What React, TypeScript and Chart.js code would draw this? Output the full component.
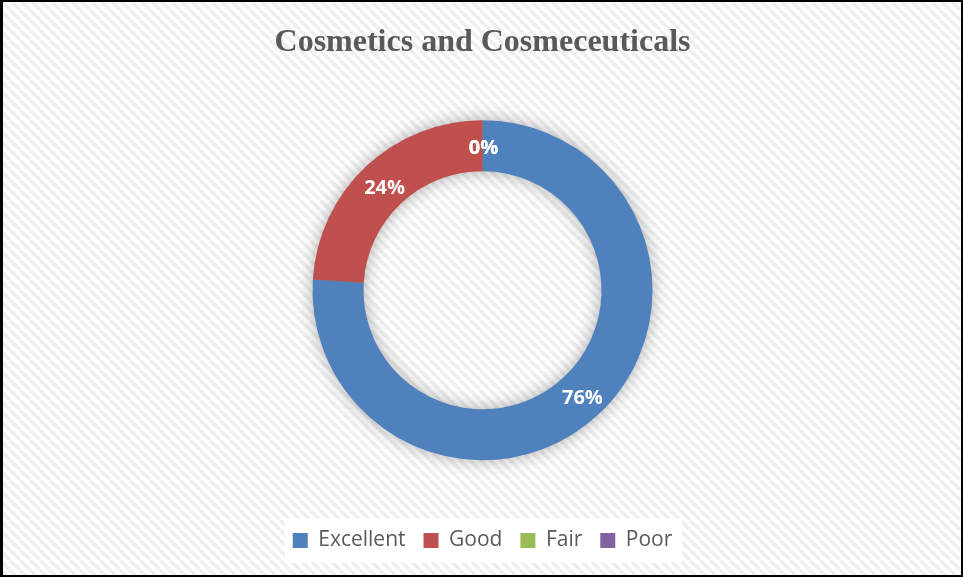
import React, { useEffect, useRef } from "react";
import { Chart, registerables } from "chart.js";

Chart.register(...registerables);

const TITLE = "Cosmetics and Cosmeceuticals";
const CATEGORIES = ["Excellent", "Good", "Fair", "Poor"];
const VALUES = [76, 24, 0, 0];
const COLORS = ["#4F81BD", "#C0504D", "#9BBB59", "#8064A2"];

function makeStripePattern(ctx: CanvasRenderingContext2D) {
  const s = 10;
  const c = document.createElement("canvas");
  c.width = s;
  c.height = s;
  const g = c.getContext("2d")!;
  g.fillStyle = "#ffffff";
  g.fillRect(0, 0, s, s);
  g.strokeStyle = "#eeeeee";
  g.lineWidth = 3.5;
  for (const off of [-s, 0, s]) {
    g.beginPath();
    g.moveTo(off, 0);
    g.lineTo(off + s, s);
    g.stroke();
  }
  return ctx.createPattern(c, "repeat");
}

const bgPlugin = {
  id: "bgPlugin",
  beforeDraw(chart: any) {
    const ctx = chart.ctx as CanvasRenderingContext2D;
    ctx.save();
    const pat = makeStripePattern(ctx);
    ctx.fillStyle = pat || "#fff";
    ctx.fillRect(0, 0, chart.width, chart.height);
    const boxes = chart.legend?.legendHitBoxes || [];
    if (boxes.length) {
      let l = Infinity, r = -Infinity, t = Infinity, b = -Infinity;
      for (const h of boxes) {
        l = Math.min(l, h.left);
        r = Math.max(r, h.left + h.width);
        t = Math.min(t, h.top);
        b = Math.max(b, h.top + h.height);
      }
      const cy = (t + b) / 2;
      ctx.fillStyle = "#ffffff";
      ctx.fillRect(l - 8, cy - 22, r - l + 18, 44);
    }
    ctx.restore();
  },
  beforeDatasetsDraw(chart: any) {
    const meta = chart.getDatasetMeta(0);
    const arc = meta.data[0];
    if (!arc) return;
    const { x, y, innerRadius, outerRadius } = arc.getProps(["x", "y", "innerRadius", "outerRadius"], true);
    const ctx = chart.ctx as CanvasRenderingContext2D;
    ctx.save();
    ctx.shadowColor = "rgba(0,0,0,0.35)";
    ctx.shadowBlur = 18;
    ctx.fillStyle = "#888";
    ctx.beginPath();
    ctx.arc(x, y, outerRadius - 1, 0, Math.PI * 2);
    ctx.arc(x, y, innerRadius + 1, Math.PI * 2, 0, true);
    ctx.closePath();
    ctx.fill();
    ctx.restore();
  },
  afterDatasetsDraw(chart: any) {
    const meta = chart.getDatasetMeta(0);
    const ctx = chart.ctx as CanvasRenderingContext2D;
    const total = VALUES.reduce((a, b) => a + b, 0);
    ctx.save();
    ctx.fillStyle = "#ffffff";
    ctx.font = "bold 20px 'Open Sans', 'Noto Sans', sans-serif";
    ctx.textAlign = "center";
    ctx.textBaseline = "middle";
    meta.data.forEach((el: any, i: number) => {
      const { x, y, startAngle, endAngle, innerRadius, outerRadius } = el.getProps(
        ["x", "y", "startAngle", "endAngle", "innerRadius", "outerRadius"],
        true
      );
      const mid = (startAngle + endAngle) / 2;
      const r = (innerRadius + outerRadius) / 2;
      const pct = Math.round((VALUES[i] / total) * 100) + "%";
      ctx.fillText(pct, x + Math.cos(mid) * r + 1, y + Math.sin(mid) * r + 3);
    });
    ctx.restore();
  },
  afterDraw(chart: any) {
    const ctx = chart.ctx as CanvasRenderingContext2D;
    ctx.save();
    ctx.fillStyle = "#000";
    const w = chart.width, h = chart.height;
    ctx.fillRect(0, 0, w, 2);
    ctx.fillRect(0, 0, 3, h);
    ctx.fillRect(w - 2, 0, 2, h);
    ctx.fillRect(0, h - 2, w, 2);
    ctx.restore();
  },
};

export default function App() {
  const ref = useRef<HTMLCanvasElement>(null);
  useEffect(() => {
    document.body.style.margin = "0";
    const chart = new Chart(ref.current!, {
      type: "doughnut",
      data: {
        labels: CATEGORIES,
        datasets: [
          {
            data: VALUES,
            backgroundColor: COLORS,
            borderWidth: 0,
          },
        ],
      },
      options: {
        responsive: false,
        animation: false,
        radius: 170,
        cutout: "70%",
        layout: { padding: { top: 10, bottom: 16, left: 2, right: 0 } },
        plugins: {
          title: {
            display: true,
            text: TITLE,
            color: "#595959",
            font: { family: "'Liberation Serif', 'Times New Roman', serif", size: 32, weight: "bold" },
            padding: { top: 14, bottom: 6 },
          },
          legend: {
            position: "bottom",
            labels: {
              color: "#595959",
              font: { family: "'Open Sans', 'Noto Sans', sans-serif", size: 21 },
              boxWidth: 15,
              boxHeight: 15,
              padding: 18,
            },
          },
          tooltip: { enabled: false },
        },
      } as any,
      plugins: [bgPlugin],
    });
    return () => chart.destroy();
  }, []);
  return (
    <div style={{ width: 963, height: 577 }}>
      <canvas ref={ref} width={963} height={577} style={{ display: "block" }} />
    </div>
  );
}
